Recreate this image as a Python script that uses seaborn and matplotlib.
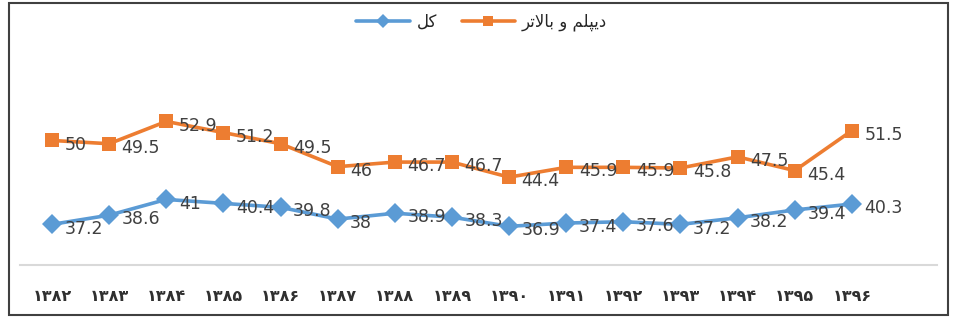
import pandas as pd
import seaborn as sns
import matplotlib.pyplot as plt
from matplotlib.patches import Rectangle

# years 1382..1396 in Persian digits
years = ['۱۳۸۲', '۱۳۸۳', '۱۳۸۴', '۱۳۸۵', '۱۳۸۶', '۱۳۸۷', '۱۳۸۸', '۱۳۸۹',
         '۱۳۹۰', '۱۳۹۱', '۱۳۹۲', '۱۳۹۳', '۱۳۹۴', '۱۳۹۵', '۱۳۹۶']
total = [37.2, 38.6, 41, 40.4, 39.8, 38, 38.9, 38.3, 36.9, 37.4, 37.6, 37.2, 38.2, 39.4, 40.3]
diploma = [50, 49.5, 52.9, 51.2, 49.5, 46, 46.7, 46.7, 44.4, 45.9, 45.9, 45.8, 47.5, 45.4, 51.5]

# Persian labels written in shaped presentation forms, visual order
# "کل" and "دیپلم و بالاتر"
name_total = '\uFEDE\uFB90'
name_diploma = '\uFEAE\uFE97\uFEFB\uFE8E\uFE91 \uFEED \uFEE2\uFEE0\uFB59\uFBFE\uFEA9'

df = pd.DataFrame({
    'x': list(range(len(years))) * 2,
    'value': total + diploma,
    'group': [name_total] * len(total) + [name_diploma] * len(diploma),
})

sns.set_style('white')
plt.rcParams['font.family'] = ['DejaVu Sans']

fig = plt.figure(figsize=(9.54, 3.18), dpi=100)
ax = fig.add_axes([20 / 954, 53 / 318, 917 / 954, 215 / 318])

colors = {name_total: '#5B9BD5', name_diploma: '#ED7D31'}
sns.lineplot(data=df, x='x', y='value', hue='group', style='group',
             palette=colors, markers={name_total: 'D', name_diploma: 's'},
             dashes=False, linewidth=2.6, markersize=10, markeredgewidth=0, ax=ax)

for series in (total, diploma):
    for i, v in enumerate(series):
        ax.annotate(f'{v:g}', (i, v), xytext=(9, -3), textcoords='offset points',
                    ha='left', va='center', fontsize=12.5, color='#404040')

ax.set_xlim(-0.56, 15.49)
ax.set_ylim(31, 63.8)
ax.set_xticks(range(len(years)))
ax.set_xticklabels(years, fontsize=11.5, fontweight='bold', color='#303030')
ax.tick_params(axis='x', length=0, pad=17)
ax.set_yticks([])
ax.set_xlabel('')
ax.set_ylabel('')
for side in ('top', 'left', 'right'):
    ax.spines[side].set_visible(False)
ax.spines['bottom'].set_color('#D9D9D9')
ax.spines['bottom'].set_linewidth(1.5)

sns.move_legend(ax, 'center', bbox_to_anchor=(0.505, 1 - 22 / 318),
                bbox_transform=fig.transFigure, ncol=2, frameon=False,
                title=None, fontsize=12, handlelength=3.2, columnspacing=1.5,
                handletextpad=0.4)
for h in ax.get_legend().legend_handles:
    h.set_markersize(7)

fig.patches.append(Rectangle((9 / 954, 3 / 318), 939 / 954, 312 / 318,
                             transform=fig.transFigure, fill=False,
                             edgecolor='#404040', linewidth=1.5))

fig.savefig('out.png', dpi=100)
